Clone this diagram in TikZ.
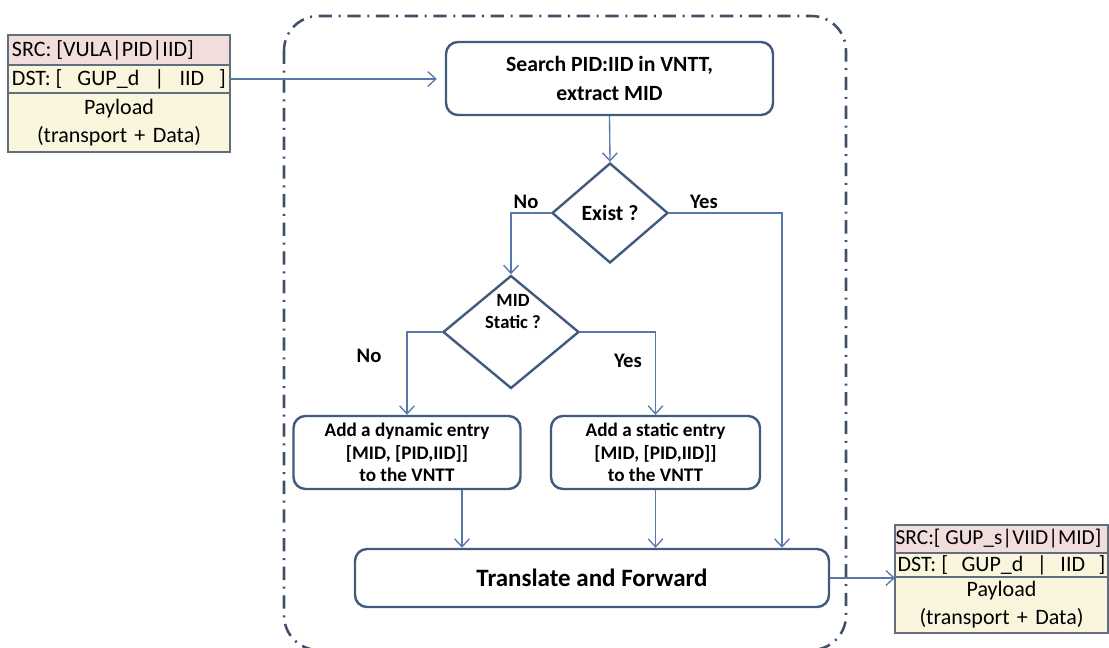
\documentclass[tikz,border=0pt]{standalone}
\usepackage{fontspec}
\setmainfont{Carlito}
\usetikzlibrary{arrows.meta,shapes.geometric,positioning}

\definecolor{boxline}{RGB}{66,90,124}
\definecolor{arrline}{RGB}{88,120,172}
\definecolor{frameline}{RGB}{64,80,104}
\definecolor{pktline}{RGB}{98,110,126}
\definecolor{srcfill}{RGB}{242,221,221}
\definecolor{dstfill}{RGB}{250,246,221}

\tikzset{every picture/.style={line width=0.75pt}}

\begin{document}
\begin{tikzpicture}[x=0.75pt,y=0.75pt,yscale=-1,xscale=1,
  procbox/.style={draw=boxline, line width=1.8pt, rounded corners=9pt, fill=white, align=center, inner sep=2pt},
  decision/.style={draw=boxline, line width=1.8pt, diamond, fill=white, align=center, inner sep=0pt, font=\fontsize{16.3}{19}\selectfont\bfseries},
  pktrow/.style={draw=pktline, line width=1.2pt, outer sep=0pt, inner xsep=3pt, inner ysep=0pt, align=flush left, font=\fontsize{16.5}{21}\selectfont},
  flow/.style={draw=arrline, line width=1pt, -{Straight Barb[length=6pt,width=11pt]}},
  answer/.style={inner sep=0pt, font=\fontsize{15.5}{18}\selectfont\bfseries}]
\useasboundingbox (0,0) rectangle (1109,648);

%Shape: Rounded Rect (dash dot)
\draw [frameline, line width=1.9pt, dash pattern=on 10pt off 5pt on 1.5pt off 5pt, rounded corners=26pt] (284,16) rectangle (846,650);

%Packet in
\node [pktrow, fill=srcfill, minimum width=166.5pt, text width=160.5pt, minimum height=22.5pt] (srcL) at (119,50) {SRC: [VULA|PID|IID]};
\node [pktrow, fill=dstfill, minimum width=166.5pt, text width=160.5pt, minimum height=21pt, below=0pt of srcL] (dstL) {DST: [\hfill GUP\_d\hfill|\hfill IID\hfill]};
\node [pktrow, fill=dstfill, minimum width=166.5pt, text width=160.5pt, minimum height=44.25pt, align=center, below=0pt of dstL] (payL) {Payload\\(transport + Data)};

%Packet out
\node [pktrow, fill=srcfill, minimum width=159.75pt, text width=158.75pt, inner xsep=0.5pt, minimum height=21pt, font=\fontsize{16}{21}\selectfont] (srcR) at (1001.5,539) {SRC:[ GUP\_s|VIID|MID]};
\node [pktrow, fill=dstfill, minimum width=159.75pt, text width=155.75pt, inner xsep=2pt, minimum height=18pt, below=0pt of srcR] (dstR) {DST: [\hfill GUP\_d\hfill|\hfill IID\hfill]};
\node [pktrow, fill=dstfill, minimum width=159.75pt, text width=155.75pt, inner xsep=2pt, minimum height=42pt, align=center, below=0pt of dstR] (payR) {Payload\\(transport + Data)};

%Flowchart: Process
\node [procbox, minimum width=245.25pt, minimum height=54.75pt, font=\fontsize{16.3}{21.75}\selectfont\bfseries] (search) at (609.5,78.5) {Search PID:IID in VNTT,\\extract MID};
%Flowchart: Decision
\node [decision, minimum width=87pt, minimum height=75pt] (exist) at (610,213) {Exist ?};
%Flowchart: Decision
\node [decision, minimum width=102pt, minimum height=84.75pt] (midq) at (511,332) {};
%Flowchart: Process
\node [procbox, minimum width=170.25pt, minimum height=54.75pt, font=\fontsize{14.4}{16.9}\selectfont\bfseries] (dynamic) at (407,452.5) {Add a dynamic entry\\{[MID, [PID,IID]]}\\to the VNTT};
%Flowchart: Process
\node [procbox, minimum width=156.75pt, minimum height=54.75pt, font=\fontsize{14.4}{16.9}\selectfont\bfseries] (static) at (655.5,452.5) {Add a static entry\\{[MID, [PID,IID]]}\\to the VNTT};
%Flowchart: Process
\node [procbox, minimum width=355.5pt, minimum height=43.5pt, font=\fontsize{18.75}{22}\selectfont\bfseries] (translate) at (592,578) {Translate and Forward};

\coordinate (yesx) at (782,0);
\coordinate (dynx) at (462,0);

%Straight Lines
\draw [flow, shorten >=6pt] (dstL.east) -- (dstL.east -| search.west);
\draw [flow] (search.south) -- (exist.north);
\draw [flow] (exist.west) -| (midq.north);
\draw [flow] (exist.east) -| (translate.north -| yesx);
\draw [flow] (midq.west) -| (dynamic.north);
\draw [flow] (midq.east) -| (static.north);
\draw [flow] (dynamic.south -| dynx) -- (translate.north -| dynx);
\draw [flow] (static.south) -- (translate.north -| static.south);
\draw [flow] (translate.east) -- (translate.east -| payR.west);

% Text Node
\node [inner sep=0pt, align=center, font=\fontsize{14}{16.5}\selectfont\bfseries] (midtxt) at (513,312) {MID\\Static ?};
% Text Node
\node [answer] (noA) at (526,202) {No};
% Text Node
\node [answer] (yesA) at (704,202) {Yes};
% Text Node
\node [answer] (noB) at (369,356) {No};
% Text Node
\node [answer] (yesB) at (628,361) {Yes};

\end{tikzpicture}
\end{document}
